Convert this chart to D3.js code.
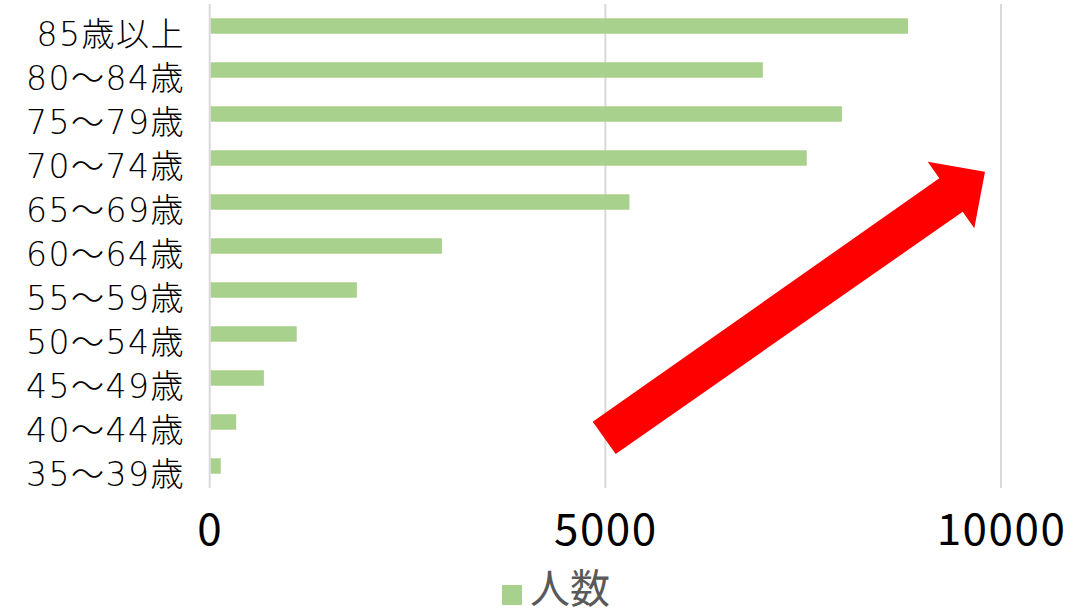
<!DOCTYPE html>
<html><head><meta charset="utf-8">
<script src="https://cdn.jsdelivr.net/npm/d3@7"></script>
<style>
html,body{margin:0;padding:0;background:#fff;}
svg{display:block;}
</style></head>
<body><svg id="chart" width="1083" height="611"></svg>
<script>
const categories = ["85歳以上","80～84歳","75～79歳","70～74歳","65～69歳","60～64歳","55～59歳","50～54歳","45～49歳","40～44歳","35～39歳"];
const values = [8825, 6990, 7990, 7545, 5305, 2935, 1860, 1100, 685, 335, 140];
const xTicks = [0, 5000, 10000];
const seriesName = "人数";

const svg = d3.select("#chart");
const font = "'Noto Sans CJK JP', 'Noto Sans', sans-serif";
const labelFont = "'DejaVu Sans', 'Noto Sans CJK JP', sans-serif";

const x = d3.scaleLinear().domain([0, 10000]).range([209.7, 1001]);
const y = d3.scaleBand().domain(categories).range([4, 488]).paddingInner(0.648).paddingOuter(0.324);

// gridlines
svg.append("g").selectAll("line").data(xTicks).join("line")
  .attr("x1", d => x(d)).attr("x2", d => x(d))
  .attr("y1", 4).attr("y2", 488)
  .attr("stroke", "#d9d9d9").attr("stroke-width", 2);

// bars
svg.append("g").selectAll("rect").data(values).join("rect")
  .attr("x", x(0) + 1)
  .attr("y", (d, i) => y(categories[i]))
  .attr("width", d => x(d) - x(0) - 1)
  .attr("height", y.bandwidth())
  .attr("fill", "#a9d18e");

// y labels
svg.append("g").selectAll("text").data(categories).join("text")
  .attr("x", 185)
  .attr("y", d => y(d) + y.bandwidth() / 2 + 8)
  .attr("dy", "0.35em")
  .attr("text-anchor", "end")
  .attr("font-family", labelFont)
  .attr("font-weight", 200)
  .attr("font-size", 33)
  .attr("letter-spacing", 1.5)
  .attr("fill", "#000")
  .text(d => d);

// x tick labels
const xAxis = d3.axisBottom(x).tickValues(xTicks).tickSize(0).tickPadding(0).tickFormat(d3.format("d"));
const gx = svg.append("g").attr("transform", "translate(0,545)").call(xAxis);
gx.select(".domain").remove();
gx.selectAll("text")
  .attr("y", 0).attr("dy", 0)
  .attr("font-family", font)
  .attr("font-size", 44)
  .attr("letter-spacing", 1.5)
  .attr("fill", "#000");

// legend
const lg = svg.append("g");
lg.append("rect").attr("x", 502).attr("y", 585).attr("width", 20).attr("height", 20).attr("fill", "#a9d18e");
lg.append("text").attr("x", 530).attr("y", 603)
  .attr("font-family", font).attr("font-size", 40).attr("fill", "#595959")
  .text(seriesName);

// annotation arrow
svg.append("path")
  .attr("d", "M592.7,421.7 L939.3,178.3 L927.7,161.7 L985,171.7 L974.3,228.3 L962.7,211.7 L615.7,454 Z")
  .attr("fill", "#ff0000");
</script>
</body></html>
